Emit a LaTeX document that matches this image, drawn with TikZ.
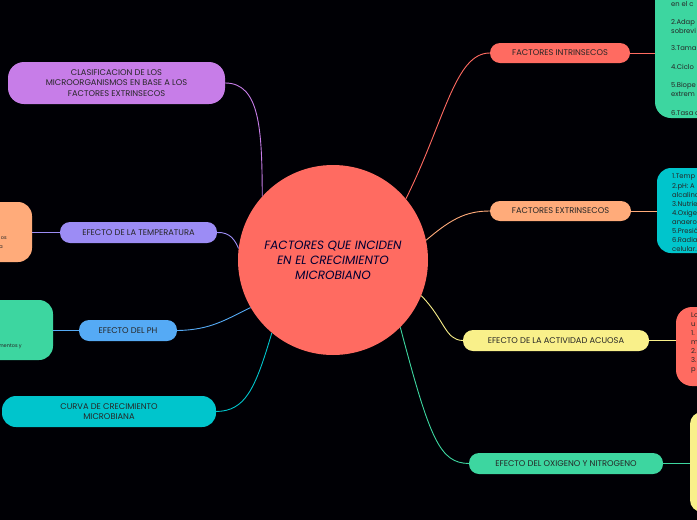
\documentclass[tikz,border=0pt]{standalone}
\usepackage{fontspec}
\setmainfont{Poppins}
\begin{document}
\begin{tikzpicture}[x=1pt,y=-1pt,
 br/.style={rounded corners=10pt,inner sep=0pt,font=\fontsize{8.3}{10.5}\selectfont,text=black!85,align=center},
 con/.style={line width=0.9pt}]
\definecolor{cred}{HTML}{FF6B61}
\definecolor{cgreen}{HTML}{3DD6A0}
\definecolor{cpeach}{HTML}{FFAB7A}
\definecolor{ccyan}{HTML}{00C5CC}
\definecolor{cyel}{HTML}{F9F08A}
\definecolor{cpurp}{HTML}{C77DE8}
\definecolor{clav}{HTML}{9C8CF5}
\definecolor{cblue}{HTML}{55AAF5}
\fill[black!98!blue] (0,0) rectangle (697,520);
\clip (0,0) rectangle (697,520);
\useasboundingbox (0,0) rectangle (697,520);
% center
\node[circle,fill=cred,minimum size=190pt,inner sep=0pt,align=center,font=\fontsize{12}{15}\selectfont\itshape,text=black!80!blue] (c) at (333,260) {FACTORES QUE INCIDEN\\EN EL CRECIMIENTO\\MICROBIANO};
% branch nodes
\node[br,fill=cred,minimum width=140pt,minimum height=20pt] (fi) at (560,53) {FACTORES INTRINSECOS};
\node[br,fill=cpeach,minimum width=141pt,minimum height=20pt] (fe) at (560.5,211) {FACTORES EXTRINSECOS};
\node[br,fill=cyel,minimum width=186pt,minimum height=21pt] (aa) at (556,340.5) {EFECTO DE LA ACTIVIDAD ACUOSA};
\node[br,fill=cgreen,minimum width=194pt,minimum height=21pt] (on) at (566,463.5) {EFECTO DEL OXIGENO Y NITROGENO};
\node[br,fill=cpurp,minimum width=217pt,minimum height=42pt,rounded corners=16pt] (cl) at (116.5,83) {CLASIFICACION DE LOS\\MICROORGANISMOS EN BASE A LOS\\FACTORES EXTRINSECOS};
\node[br,fill=clav,minimum width=157pt,minimum height=21pt] (et) at (138.5,232.5) {EFECTO DE LA TEMPERATURA};
\node[br,fill=cblue,minimum width=98pt,minimum height=21pt] (ph) at (128,330.5) {EFECTO DEL PH};
\node[br,fill=ccyan,minimum width=214pt,minimum height=31pt,rounded corners=14pt] (cu) at (109,411.5) {CURVA DE CRECIMIENTO\\MICROBIANA};
% sub boxes
\fill[cgreen,rounded corners=16pt] (655,-20) rectangle (720,118);
\coordinate (gi) at (655,53);
\begin{scope}[every node/.style={anchor=base west,inner sep=0pt,font=\fontsize{6.8}{7}\selectfont,text=black!85}]
\node at (671,6) {en el c}; \node at (671,24) {2.Adap}; \node at (671,33) {sobrevi};
\node at (671,50) {3.Tamañ}; \node at (671,69) {4.Ciclo}; \node at (671,87) {5.Biope};
\node at (671,96) {extrem}; \node at (671,115) {6.Tasa d};
\end{scope}
\fill[ccyan,rounded corners=14pt] (657,168) rectangle (720,253);
\coordinate (ci) at (657,211);
\begin{scope}[every node/.style={anchor=base west,inner sep=0pt,font=\fontsize{6.8}{7}\selectfont,text=black!85}]
\node at (672,178) {1.Temp}; \node at (672,188) {2.pH: A}; \node at (672,197) {alcalino};
\node at (672,206) {3.Nutrie}; \node at (672,215) {4.Oxige}; \node at (672,224) {anaero};
\node at (672,233) {5.Presió}; \node at (672,242) {6.Radia}; \node at (672,251) {celular.};
\end{scope}
\fill[cred,rounded corners=16pt] (676,307) rectangle (720,386);
\coordinate (ri) at (676,340.5);
\begin{scope}[every node/.style={anchor=base west,inner sep=0pt,font=\fontsize{6.8}{7}\selectfont,text=black!85}]
\node at (691,317) {Lo}; \node at (691,326) {u}; \node at (691,335) {1.}; \node at (691,344) {m};
\node at (691,353) {2.}; \node at (691,362) {3.}; \node at (691,371) {p};
\end{scope}
\fill[cyel,rounded corners=12pt] (690,412) rectangle (720,512);
\coordinate (yi) at (690,463.5);
\fill[cpeach,rounded corners=14pt] (-20,202) rectangle (32,262);
\coordinate (pi) at (32,232.5);
\node[anchor=base east,inner sep=0pt,font=\fontsize{5}{5}\selectfont,text=black!85] at (7,239) {os};
\node[anchor=base east,inner sep=0pt,font=\fontsize{5}{5}\selectfont,text=black!85] at (3,248) {a};
\fill[cgreen,rounded corners=14pt] (-20,300) rectangle (53,360);
\coordinate (gl) at (53,330.5);
\node[anchor=base east,inner sep=0pt,font=\fontsize{5}{5}\selectfont,text=black!85] at (22,347) {mentos y};
% connectors
\draw[con,cred] (c.40) .. controls (445,120) and (455,53) .. (fi.west);
\draw[con,cpeach] (c.12) .. controls (450,220) and (465,211) .. (fe.west);
\draw[con,cyel] (c.-22) .. controls (445,320) and (445,340) .. (aa.west);
\draw[con,cgreen] (c.-45) .. controls (430,440) and (440,463) .. (on.west);
\draw[con,cpurp] (c.138) .. controls (262,130) and (260,83) .. (cl.east);
\draw[con,clav] (c.173) .. controls (235,240) and (230,232) .. (et.east);
\draw[con,cblue] (c.-150) .. controls (225,320) and (210,330) .. (ph.east);
\draw[con,ccyan] (c.-130) .. controls (255,390) and (245,411) .. (cu.east);
\draw[con,cred] (fi.east) -- (gi);
\draw[con,cpeach] (fe.east) -- (ci);
\draw[con,cyel] (aa.east) -- (ri);
\draw[con,cgreen] (on.east) -- (yi);
\draw[con,clav] (et.west) -- (pi);
\draw[con,cblue] (ph.west) -- (gl);
\end{tikzpicture}
\end{document}
